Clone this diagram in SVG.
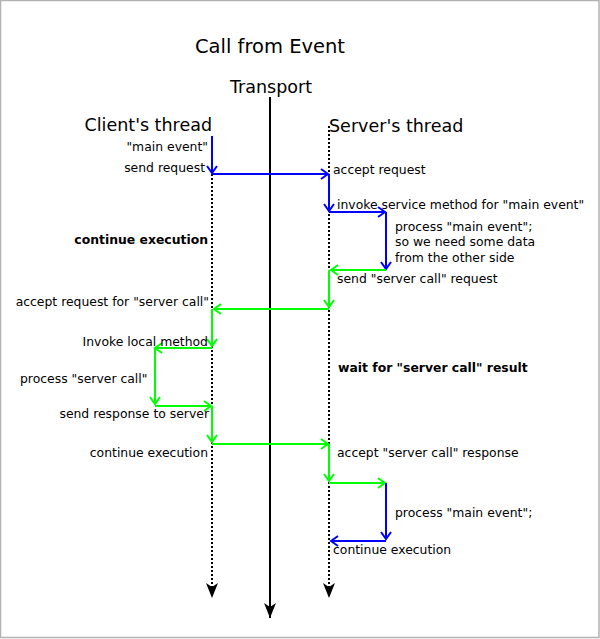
<svg xmlns="http://www.w3.org/2000/svg" width="600" height="639" viewBox="0 0 600 639">
<defs>
<style>
text{font-family:"DejaVu Sans","Liberation Sans",sans-serif;fill:#000}
.h{font-size:17.5px}
.t{font-size:19.5px}
.s{font-size:12.4px}
.b{font-weight:bold}
.e{text-anchor:end}
.blue{stroke:#0000ff;stroke-width:2;fill:none;marker-end:url(#ab)}
.green{stroke:#00ff00;stroke-width:2;fill:none;marker-end:url(#ag)}
.dot{stroke:#000;stroke-width:2;stroke-dasharray:2,2;fill:none;marker-end:url(#af)}
.solid{stroke:#000;stroke-width:2;fill:none;marker-end:url(#af)}
</style>
<marker id="ab" markerUnits="userSpaceOnUse" markerWidth="20" markerHeight="20" viewBox="-10 -10 20 20" refX="0" refY="0" orient="auto"><path d="M-7,-5 L0,0 L-7,5" fill="none" stroke="#0000ff" stroke-width="2"/></marker>
<marker id="ag" markerUnits="userSpaceOnUse" markerWidth="20" markerHeight="20" viewBox="-10 -10 20 20" refX="0" refY="0" orient="auto"><path d="M-7,-5 L0,0 L-7,5" fill="none" stroke="#00ff00" stroke-width="2"/></marker>
<marker id="af" markerUnits="userSpaceOnUse" markerWidth="30" markerHeight="30" viewBox="-20 -15 30 30" refX="0" refY="0" orient="auto"><path d="M0,0 L-15,-6 L-11,0 L-15,6 Z" fill="#000"/></marker>
</defs>
<rect x="0.5" y="0.5" width="598.5" height="637" fill="#fff" stroke="#b3b3b3" stroke-width="1.5"/>
<g id="titles">
<text class="t" x="270" y="53" text-anchor="middle">Call from Event</text>
<text class="h" x="271" y="93" text-anchor="middle">Transport</text>
</g>
<g id="lanes">
<g id="client"><text class="h e" x="212" y="131">Client's thread</text><path class="dot" d="M212,174 V598"/></g>
<g id="transport"><path class="solid" d="M270,97 V618"/></g>
<g id="server"><text class="h" x="329" y="132">Server's thread</text><path class="dot" d="M329,126 V598"/></g>
</g>
<g id="connectors">
<path class="blue" d="M212,136 V173"/>
<path class="blue" d="M212,174 H328"/>
<path class="blue" d="M329,174 V211"/>
<path class="blue" d="M329,212 H385"/>
<path class="blue" d="M386,212 V269"/>
<path class="green" d="M386,270 H331"/>
<path class="green" d="M329,270 V307"/>
<path class="green" d="M329,309 H214"/>
<path class="green" d="M212,309 V346"/>
<path class="green" d="M212,348 H155"/>
<path class="green" d="M155,348 V404"/>
<path class="green" d="M155,406 H211"/>
<path class="green" d="M212,406 V442"/>
<path class="green" d="M212,444 H328"/>
<path class="green" d="M329,444 V481"/>
<path class="green" d="M329,483 H385"/>
<path class="blue" d="M386,483 V539"/>
<path class="blue" d="M386,541 H331"/>
</g>
<g id="labels">
<text class="s e" x="208" y="151">"main event"</text>
<text class="s e" x="205" y="172">send request</text>
<text class="s" x="333" y="174">accept request</text>
<text class="s" x="337" y="209">invoke service method for "main event"</text>
<text class="s" x="395" y="231">process "main event";</text>
<text class="s" x="395" y="246">so we need some data</text>
<text class="s" x="395" y="262">from the other side</text>
<text class="s" x="337" y="283">send "server call" request</text>
<text class="s b e" x="208" y="244">continue execution</text>
<text class="s e" x="209" y="306">accept request for "server call"</text>
<text class="s e" x="208" y="346">Invoke local method</text>
<text class="s" x="20" y="383">process "server call"</text>
<text class="s e" x="209" y="418">send response to server</text>
<text class="s e" x="208" y="457">continue execution</text>
<text class="s b" x="338" y="372">wait for "server call" result</text>
<text class="s" x="337" y="457">accept "server call" response</text>
<text class="s" x="395" y="517">process "main event";</text>
<text class="s" x="333" y="554">continue execution</text>
</g>
</svg>
